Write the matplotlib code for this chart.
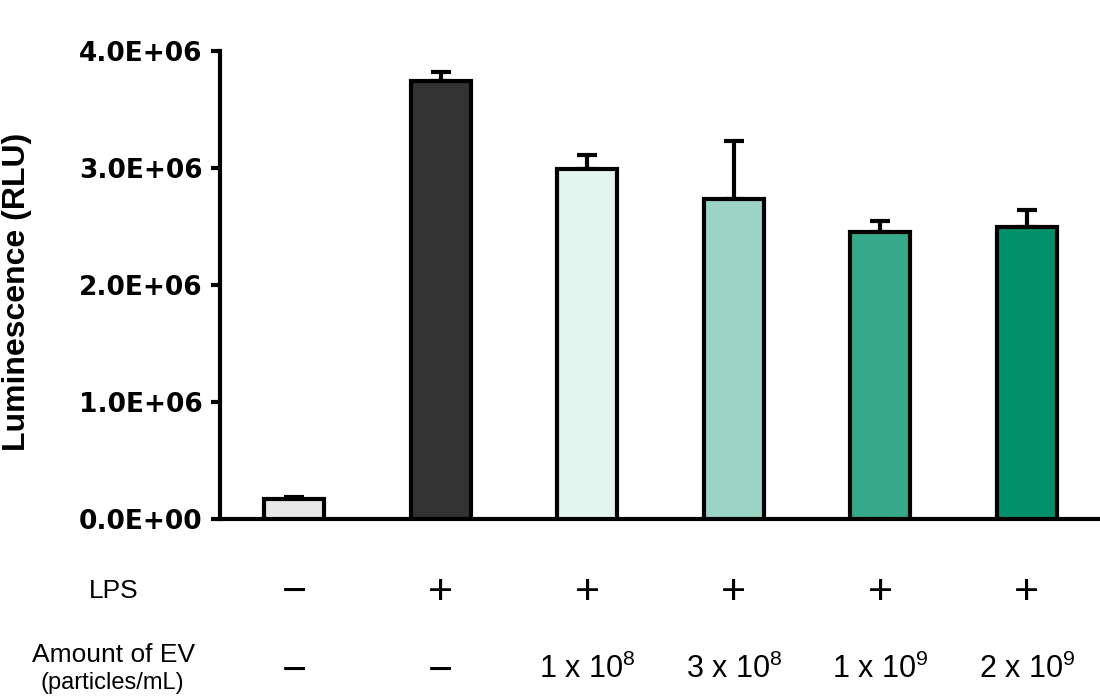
import matplotlib
matplotlib.use('Agg')
import matplotlib.pyplot as plt
import numpy as np

plt.rcParams['font.family'] = ['Liberation Sans', 'DejaVu Sans']
plt.rcParams['mathtext.fontset'] = 'custom'
plt.rcParams['mathtext.rm'] = 'Liberation Sans'
plt.rcParams['mathtext.it'] = 'Liberation Sans'
plt.rcParams['mathtext.bf'] = 'Liberation Sans:bold'

# data
means = [0.17e6, 3.74e6, 2.99e6, 2.735e6, 2.45e6, 2.50e6]
errs = [0.02e6, 0.08e6, 0.12e6, 0.50e6, 0.10e6, 0.14e6]
colors = ['#E8E8E8', '#333333', '#E4F4EF', '#9BD4C5', '#36A98B', '#00906B']
lps = ['\u2212', '+', '+', '+', '+', '+']
ev = ['\u2212', '\u2212', '1 x 10$^{8}$', '3 x 10$^{8}$', '1 x 10$^{9}$', '2 x 10$^{9}$']
yticks = [0, 1e6, 2e6, 3e6, 4e6]

W, H = 1100, 700
fig = plt.figure(figsize=(11, 7), dpi=100)
ax = fig.add_axes([220 / W, 1 - 519 / H, 880 / W, 468 / H])

lw = 3.0
x = np.arange(len(means))
ax.bar(x, means, width=0.41, color=colors, edgecolor='black', linewidth=lw, zorder=3)
ax.errorbar(x, means, yerr=[np.zeros(len(errs)), errs], fmt='none', ecolor='black',
            elinewidth=lw, capsize=7.5, capthick=lw, zorder=2)

ax.set_xlim(-0.505, 5.5)
ax.set_ylim(0, 4e6)
ax.set_yticks(yticks)
ax.set_yticklabels(['%.1fE+06' % (v / 1e6) if v else '0.0E+00' for v in yticks],
                   fontsize=19, fontweight='bold', family='DejaVu Sans')
ax.set_xticks([])
ax.tick_params(axis='y', direction='out', length=6.5, width=lw, pad=6)
ax.spines['top'].set_visible(False)
ax.spines['right'].set_visible(False)
ax.spines['left'].set_linewidth(lw)
ax.spines['bottom'].set_linewidth(lw)
fig.text(17 / W, 1 - 292 / H, 'Luminescence (RLU)', rotation=90, ha='center', va='center',
         fontsize=23, fontweight='bold')

# condition table under the axis
trans = ax.get_xaxis_transform()
def fy(py):
    # pixel row -> axes fraction for the x-axis blended transform
    return (1 - py / H - (1 - 519 / H)) / (468 / H)

for i in range(len(means)):
    ax.text(x[i], fy(604), lps[i], transform=trans, ha='center', va='baseline', fontsize=31)
    if ev[i] == '\u2212':
        ax.text(x[i], fy(683), ev[i], transform=trans, ha='center', va='baseline', fontsize=31)
    else:
        ax.text(x[i], fy(678), ev[i], transform=trans, ha='center', va='baseline', fontsize=22)
fig.text(114 / W, 1 - 598 / H, 'LPS', ha='center', va='baseline', fontsize=19)
fig.text(114 / W, 1 - 662 / H, 'Amount of EV', ha='center', va='baseline', fontsize=19)
fig.text(112 / W, 1 - 689 / H, '(particles/mL)', ha='center', va='baseline', fontsize=17)

fig.savefig('out.png', dpi=100)
